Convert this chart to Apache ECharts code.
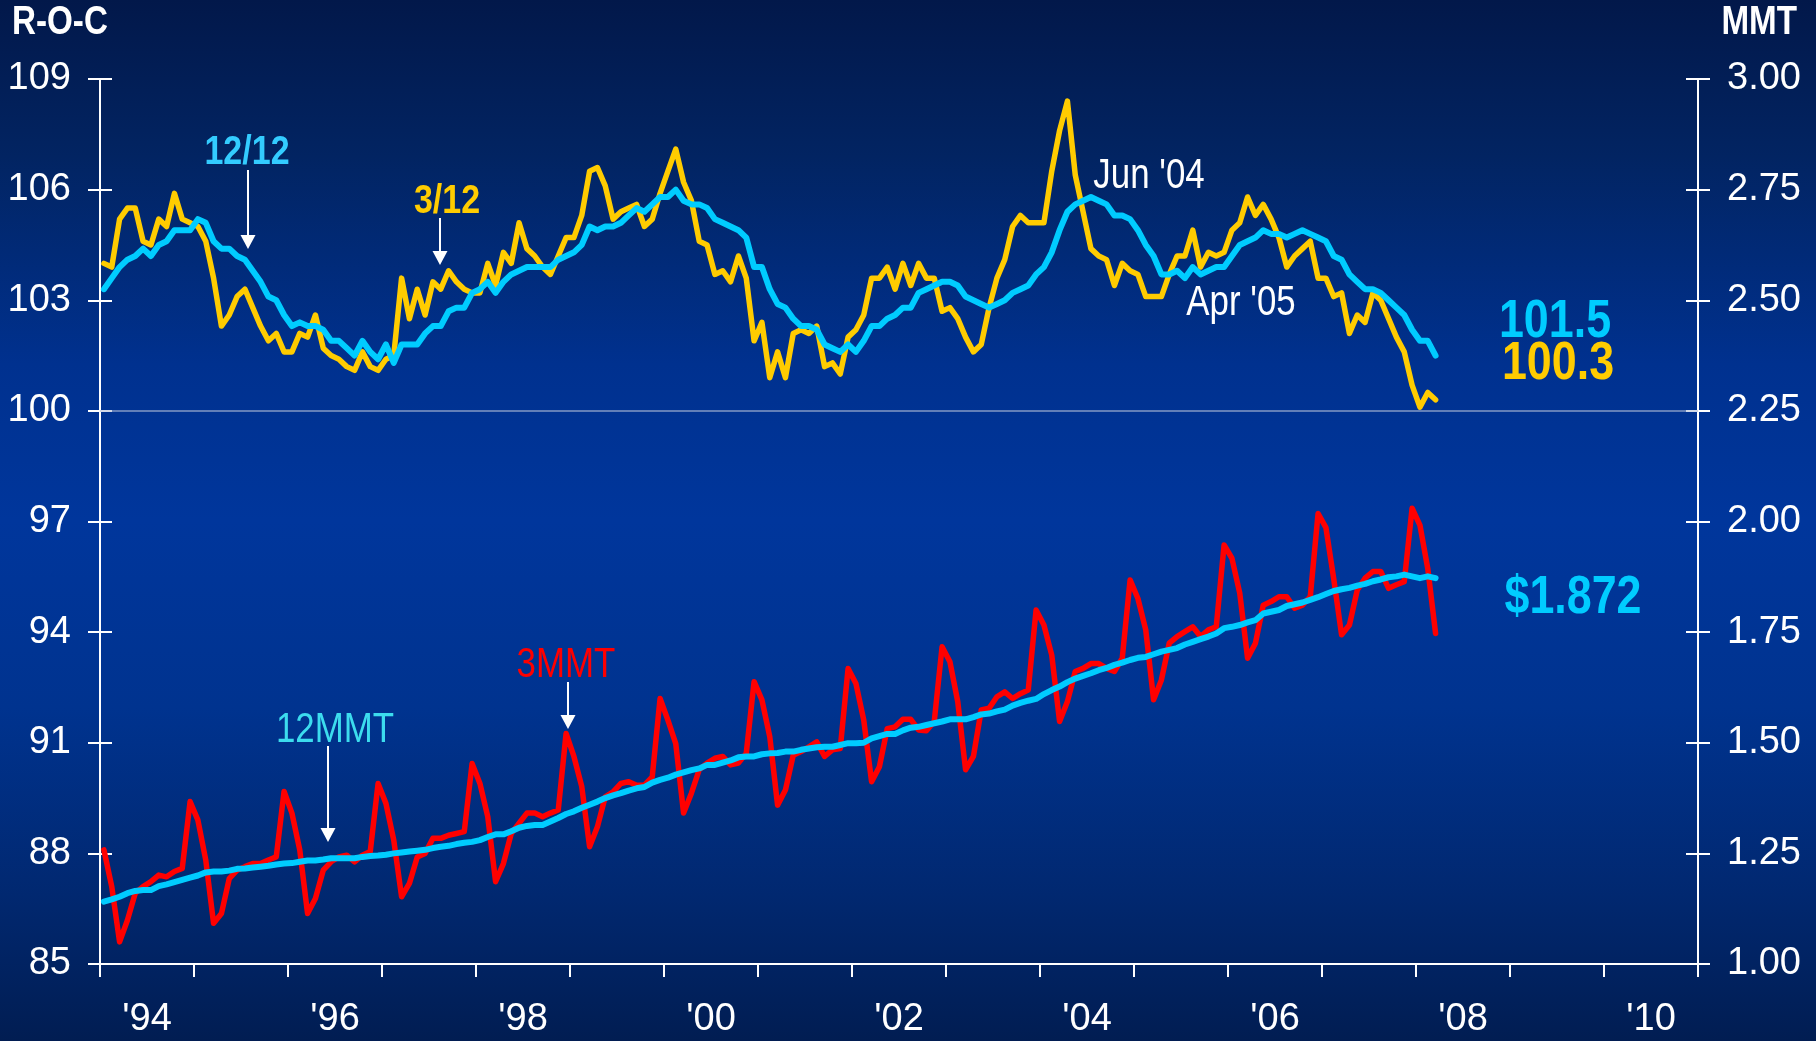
<!DOCTYPE html>
<html><head><meta charset="utf-8">
<script src="https://cdn.jsdelivr.net/npm/echarts@6/dist/echarts.min.js"></script>
<style>
html,body{margin:0;padding:0;width:1816px;height:1041px;overflow:hidden;
background:linear-gradient(to bottom,#02184a 0%,#022462 15%,#00318f 35%,#00369c 50%,#00338f 68%,#012870 86%,#011d52 100%);}
#c{width:1816px;height:1041px;}
</style></head>
<body><div id="c"></div>
<script>
// Monthly data, Jan 1994 .. Mar 2008
const startYear = 1994;
const roc3_12 = [
104.0,103.9,105.2,105.5,105.5,104.6,104.5,105.2,105.0,105.9,
105.2,105.1,105.0,104.6,103.6,102.3,102.6,103.1,103.3,102.8,
102.3,101.9,102.1,101.6,101.6,102.1,102.0,102.6,101.7,101.5,
101.4,101.2,101.1,101.6,101.2,101.1,101.4,101.5,103.6,102.5,
103.3,102.6,103.5,103.3,103.8,103.5,103.3,103.2,103.2,104.0,
103.4,104.3,104.0,105.1,104.4,104.2,103.9,103.7,104.2,104.7,
104.7,105.3,106.5,106.6,106.1,105.2,105.4,105.5,105.6,105.0,
105.2,105.9,106.5,107.1,106.2,105.7,104.6,104.5,103.7,103.8,
103.5,104.2,103.6,101.9,102.4,100.9,101.6,100.9,102.1,102.2,
102.1,102.3,101.2,101.3,101.0,102.0,102.2,102.6,103.6,103.6,
103.9,103.3,104.0,103.4,104.0,103.6,103.6,102.7,102.8,102.5,
102.0,101.6,101.8,102.8,103.6,104.1,105.0,105.3,105.1,105.1,
105.1,106.5,107.6,108.4,106.4,105.4,104.4,104.2,104.1,103.4,
104.0,103.8,103.7,103.1,103.1,103.1,103.7,104.2,104.2,104.9,
103.9,104.3,104.2,104.3,104.9,105.1,105.8,105.3,105.6,105.2,
104.7,103.9,104.2,104.4,104.6,103.6,103.6,103.1,103.2,102.1,
102.6,102.4,103.2,103.0,102.5,102.0,101.6,100.7,100.1,100.5,100.3];
const roc12_12 = [
103.3,103.6,103.9,104.1,104.2,104.4,104.2,104.5,104.6,104.9,
104.9,104.9,105.2,105.1,104.6,104.4,104.4,104.2,104.1,103.8,
103.5,103.1,103.0,102.6,102.3,102.4,102.3,102.3,102.2,101.9,
101.9,101.7,101.5,101.9,101.6,101.4,101.8,101.3,101.8,101.8,
101.8,102.1,102.3,102.3,102.7,102.8,102.8,103.2,103.3,103.5,
103.2,103.5,103.7,103.8,103.9,103.9,103.9,103.9,104.1,104.2,
104.3,104.5,105.0,104.9,105.0,105.0,105.1,105.3,105.5,105.4,
105.6,105.8,105.8,106.0,105.7,105.6,105.6,105.5,105.2,105.1,
105.0,104.9,104.7,103.9,103.9,103.3,102.9,102.8,102.5,102.3,
102.3,102.2,101.8,101.7,101.6,101.8,101.6,101.9,102.3,102.3,
102.5,102.6,102.8,102.8,103.2,103.3,103.4,103.5,103.5,103.4,
103.1,103.0,102.9,102.8,102.9,103.0,103.2,103.3,103.4,103.7,
103.9,104.3,104.9,105.4,105.6,105.7,105.8,105.7,105.6,105.3,
105.3,105.2,104.9,104.5,104.2,103.7,103.7,103.8,103.6,103.9,
103.7,103.8,103.9,103.9,104.2,104.5,104.6,104.7,104.9,104.8,
104.8,104.7,104.8,104.9,104.8,104.7,104.6,104.2,104.1,103.7,
103.5,103.3,103.3,103.2,103.0,102.8,102.6,102.2,101.9,101.9,101.5];
const mmt3 = [
1.258,1.175,1.050,1.099,1.160,1.175,1.186,1.201,1.197,1.209,
1.216,1.367,1.325,1.235,1.092,1.114,1.193,1.212,1.220,1.227,
1.227,1.235,1.242,1.390,1.341,1.258,1.114,1.148,1.212,1.231,
1.242,1.246,1.231,1.246,1.254,1.408,1.363,1.280,1.152,1.182,
1.242,1.250,1.284,1.284,1.291,1.295,1.299,1.453,1.408,1.333,
1.186,1.227,1.295,1.318,1.341,1.341,1.333,1.341,1.348,1.521,
1.469,1.401,1.265,1.310,1.378,1.389,1.408,1.412,1.404,1.404,
1.423,1.600,1.551,1.498,1.341,1.386,1.439,1.454,1.465,1.469,
1.450,1.454,1.476,1.638,1.597,1.514,1.359,1.393,1.472,1.480,
1.491,1.502,1.469,1.484,1.487,1.668,1.634,1.551,1.412,1.446,
1.532,1.536,1.553,1.553,1.529,1.527,1.548,1.717,1.683,1.593,
1.439,1.469,1.574,1.578,1.604,1.615,1.600,1.611,1.619,1.800,
1.766,1.698,1.548,1.593,1.661,1.668,1.679,1.679,1.668,1.661,
1.691,1.868,1.826,1.755,1.597,1.642,1.725,1.740,1.751,1.762,
1.740,1.755,1.762,1.947,1.917,1.838,1.691,1.725,1.811,1.819,
1.830,1.830,1.804,1.811,1.830,2.018,1.986,1.870,1.744,1.766,
1.845,1.872,1.887,1.887,1.849,1.857,1.864,2.030,1.992,1.894,1.747];
const mmt12 = [
1.141,1.146,1.152,1.160,1.165,1.167,1.167,1.176,1.180,1.185,
1.190,1.195,1.200,1.207,1.209,1.209,1.211,1.215,1.216,1.218,
1.220,1.222,1.225,1.227,1.228,1.231,1.234,1.234,1.236,1.239,
1.239,1.239,1.239,1.242,1.244,1.245,1.247,1.250,1.252,1.254,
1.256,1.258,1.262,1.265,1.267,1.271,1.274,1.276,1.280,1.287,
1.293,1.293,1.300,1.308,1.312,1.314,1.314,1.322,1.330,1.339,
1.345,1.353,1.360,1.367,1.375,1.381,1.386,1.392,1.397,1.400,
1.410,1.416,1.421,1.428,1.433,1.438,1.442,1.450,1.450,1.455,
1.460,1.467,1.469,1.469,1.474,1.476,1.477,1.480,1.480,1.484,
1.487,1.490,1.491,1.491,1.495,1.499,1.499,1.500,1.510,1.515,
1.520,1.520,1.528,1.534,1.536,1.540,1.544,1.548,1.553,1.553,
1.553,1.558,1.564,1.566,1.571,1.575,1.584,1.590,1.595,1.599,
1.610,1.619,1.627,1.637,1.645,1.651,1.657,1.664,1.669,1.676,
1.681,1.687,1.692,1.694,1.700,1.706,1.710,1.714,1.722,1.728,
1.734,1.740,1.747,1.759,1.762,1.766,1.772,1.777,1.792,1.796,
1.800,1.809,1.813,1.817,1.823,1.829,1.836,1.843,1.847,1.850,
1.855,1.859,1.865,1.869,1.874,1.876,1.880,1.876,1.872,1.876,1.872];

const leftAxis = {min: 85, max: 109, step: 3};
const rightAxis = {min: 1, max: 3, step: 0.25};
const xRange = {min: 1994, max: 2011};
const endLabels = {roc12: '101.5', roc3: '100.3', mmt12: '$1.872'};

const FF = '"Liberation Sans", Arial, sans-serif';
const SX = 0.83; // horizontal squeeze of annotation text (narrow look)

const toX = i => startYear + (i + 0.5) / 12;
const pts = arr => arr.map((v, i) => [toX(i), v]);

const white = '#ffffff';
const tickStyle = {color: white, width: 2};

function txt(text, x, y, color, weight, size, align){
  return {type: 'text', x: x, y: y, z: 100, scaleX: SX, originX: 0, originY: 0,
    style: {text: text, fill: color, font: weight + ' ' + size + 'px ' + FF,
      textAlign: align || 'center', textVerticalAlign: 'middle', align: align || 'center', verticalAlign: 'middle'}};
}
function arrow(x, y1, y2){
  return [
    {type: 'line', z: 100, shape: {x1: x, y1: y1, x2: x, y2: y2 - 10}, style: {stroke: white, lineWidth: 2}},
    {type: 'polygon', z: 100, shape: {points: [[x - 7.5, y2 - 14], [x + 7.5, y2 - 14], [x, y2]]}, style: {fill: white}}
  ];
}

const chart = echarts.init(document.getElementById('c'), null, {renderer: 'canvas'});
const axisFont = 38;
const option = {
  backgroundColor: 'transparent',
  animation: false,
  grid: {left: 100, right: 118, top: 79, bottom: 77, containLabel: false},
  xAxis: [
    {type: 'value', min: xRange.min, max: xRange.max, interval: 1,
      axisLine: {show: true, onZero: false, lineStyle: {color: white, width: 2}},
      axisTick: {show: true, length: 13, lineStyle: tickStyle},
      axisLabel: {show: false}, splitLine: {show: false}},
    {type: 'value', min: xRange.min, max: xRange.max, interval: 0.5, position: 'bottom',
      axisLine: {show: false, onZero: false}, axisTick: {show: false}, splitLine: {show: false},
      axisLabel: {show: true, margin: 37, color: white, fontSize: axisFont, fontFamily: FF,
        formatter: v => (v % 2 === 0.5) ? "'" + String(Math.floor(v)).slice(2) : ''}}
  ],
  yAxis: [
    {type: 'value', min: leftAxis.min, max: leftAxis.max, interval: leftAxis.step, position: 'left',
      axisLine: {show: true, onZero: false, lineStyle: {color: white, width: 2}},
      axisTick: {show: true, length: 12, lineStyle: tickStyle},
      axisLabel: {color: white, fontSize: axisFont, fontFamily: FF, margin: 29},
      splitLine: {show: false}},
    {type: 'value', min: rightAxis.min, max: rightAxis.max, interval: rightAxis.step, position: 'right',
      axisLine: {show: true, onZero: false, lineStyle: {color: white, width: 2}},
      axisTick: {show: true, length: 12, lineStyle: tickStyle},
      axisLabel: {color: white, fontSize: axisFont, fontFamily: FF, margin: 29,
        formatter: v => v.toFixed(2)},
      splitLine: {show: false}},
    {type: 'value', min: leftAxis.min, max: leftAxis.max, interval: leftAxis.step, position: 'left',
      axisLine: {show: false, onZero: false}, axisTick: {show: true, inside: true, length: 12, lineStyle: tickStyle},
      axisLabel: {show: false}, splitLine: {show: false}},
    {type: 'value', min: rightAxis.min, max: rightAxis.max, interval: rightAxis.step, position: 'right',
      axisLine: {show: false, onZero: false}, axisTick: {show: true, inside: true, length: 12, lineStyle: tickStyle},
      axisLabel: {show: false}, splitLine: {show: false}}
  ],
  series: [
    {type: 'line', name: '3/12', xAxisIndex: 0, yAxisIndex: 0, data: pts(roc3_12), symbol: 'none', z: 3,
      lineStyle: {color: '#FFCC00', width: 5.5, join: 'round', cap: 'round'},
      markLine: {silent: true, symbol: ['none', 'none'], label: {show: false},
        lineStyle: {color: 'rgba(175,188,215,0.75)', width: 1.5, type: 'solid'}, data: [{yAxis: 100}]}},
    {type: 'line', name: '3MMT', xAxisIndex: 0, yAxisIndex: 1, data: pts(mmt3), symbol: 'none', z: 3,
      lineStyle: {color: '#FF0000', width: 5.5, join: 'round', cap: 'round'}},
    {type: 'line', name: '12/12', xAxisIndex: 0, yAxisIndex: 0, data: pts(roc12_12), symbol: 'none', z: 4,
      lineStyle: {color: '#00CCFF', width: 6, join: 'round', cap: 'round'}},
    {type: 'line', name: '12MMT', xAxisIndex: 0, yAxisIndex: 1, data: pts(mmt12), symbol: 'none', z: 4,
      lineStyle: {color: '#00CCFF', width: 6, join: 'round', cap: 'round'}}
  ],
  graphic: [
    txt('R-O-C', 12, 23, white, 'bold', 40, 'left'),
    txt('MMT', 1797, 23, white, 'bold', 40, 'right'),
    txt('12/12', 247, 153, '#33CCFF', 'bold', 41),
    ...arrow(248, 170, 249),
    txt('3/12', 447, 202, '#FFCC00', 'bold', 41),
    ...arrow(440, 218, 265),
    txt("Jun '04", 1149, 176, white, 'normal', 42),
    txt("Apr '05", 1241, 303, white, 'normal', 42),
    txt('12MMT', 335, 730, '#3CDCEE', 'normal', 42),
    ...arrow(328, 746, 842),
    txt('3MMT', 566, 665, '#FF0000', 'normal', 42),
    ...arrow(568, 682, 729),
    txt(endLabels.roc12, 1555, 322, '#00CCFF', 'bold', 54),
    txt(endLabels.roc3, 1558, 364, '#FFCC00', 'bold', 54),
    txt(endLabels.mmt12, 1573, 598, '#00CCFF', 'bold', 54)
  ]
};
chart.setOption(option);
</script></body></html>
